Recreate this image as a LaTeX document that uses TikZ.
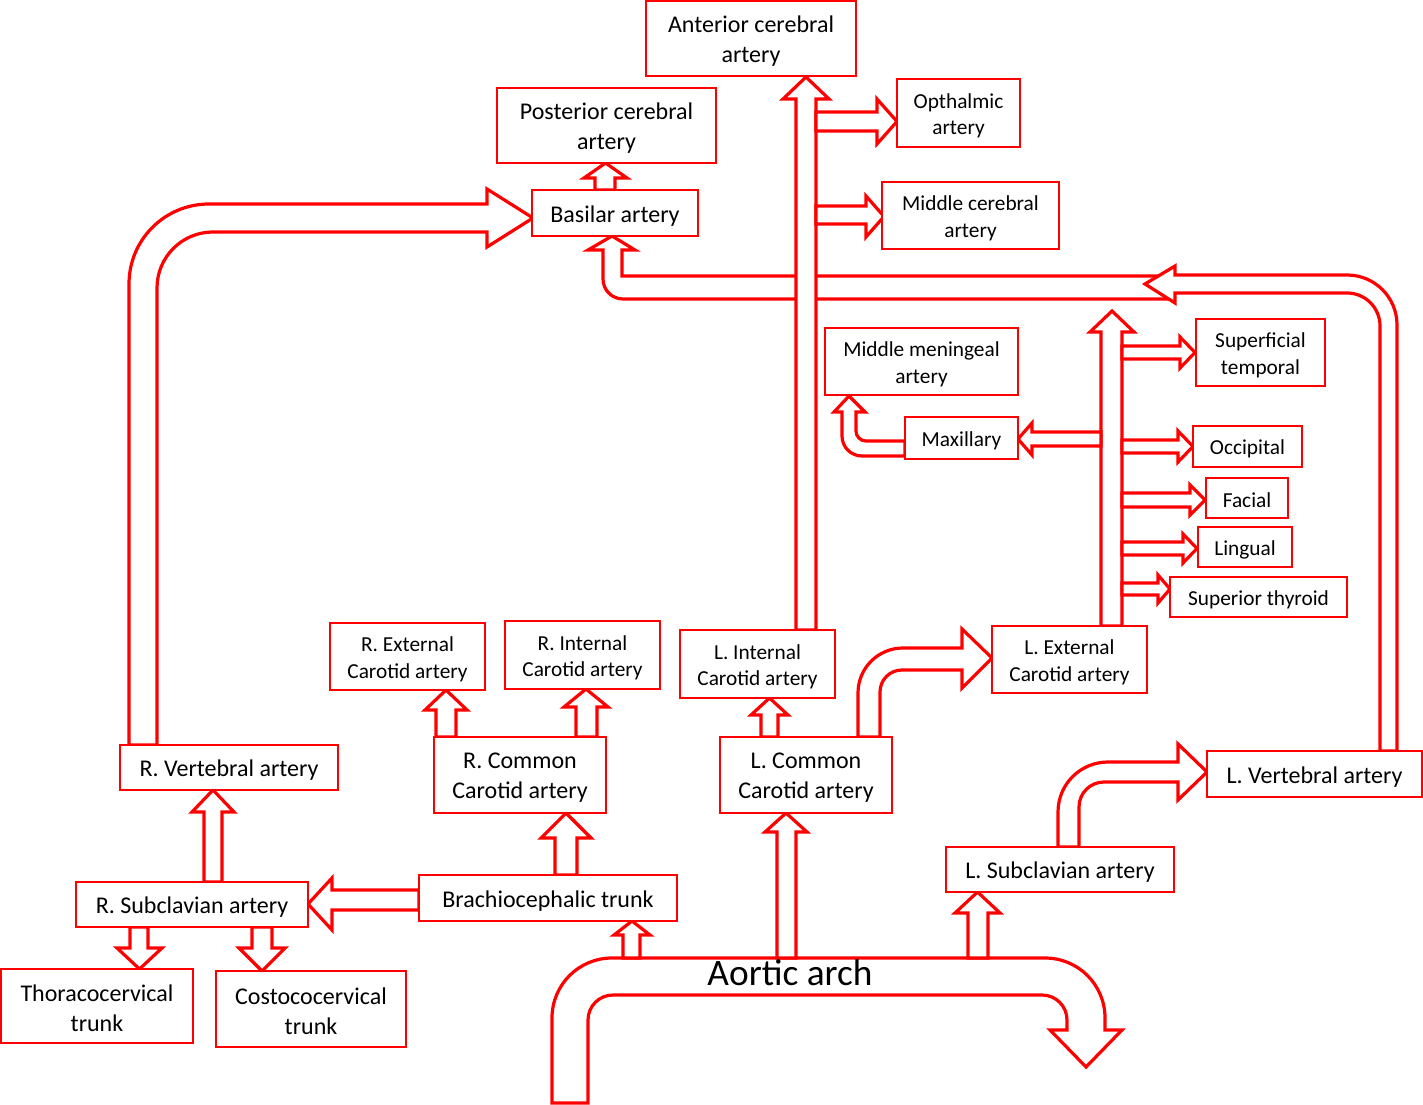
\documentclass[tikz,border=0pt]{standalone}
\usepackage{fontspec}
\setmainfont{Carlito}
\tikzset{
  box/.style={draw=red, line width=1.5pt, fill=white, inner sep=0pt},
  txt/.style={align=center, inner sep=0pt, text=black},
  big/.style={font=\fontsize{18}{22.5}\selectfont},
  small/.style={font=\fontsize{16}{20}\selectfont},
  barrow/.style={draw=red, line width=2.4pt, fill=white, line join=miter},
}
% vertical block arrow: shaft x1 x2, start y, head x1 x2, head base y, tip y
\newcommand{\bav}[7]{\draw[barrow] (#1,#3) -- (#1,#6) -- (#4,#6) -- ({(#4+#5)/2},#7) -- (#5,#6) -- (#2,#6) -- (#2,#3) -- cycle;}
% horizontal block arrow: shaft y1 y2, start x, head y1 y2, head base x, tip x
\newcommand{\bah}[7]{\draw[barrow] (#3,#1) -- (#6,#1) -- (#6,#4) -- (#7,{(#4+#5)/2}) -- (#6,#5) -- (#6,#2) -- (#3,#2) -- cycle;}
% box: name, l, t, r, b, text, style
\newcommand{\mkbox}[7]{\node[box,minimum width={(#4-#2)*0.75pt},minimum height={(#5-#3)*0.75pt}] (#1) at ({(#2+#4)/2},{(#3+#5)/2}) {};
  \node[txt,#7] (#1-t) at ([yshift=-2pt]#1.center) {#6};}
\begin{document}
\begin{tikzpicture}[x=0.75pt,y=-0.75pt]
\useasboundingbox (0,0) rectangle (1423,1105);
% Aortic arch
\draw[barrow] (552,1103) -- (552,1018) to[out=90,in=180] (612,958) -- (1045,958) to[out=0,in=90] (1105,1018) -- (1105,1030) -- (1122,1030) -- (1086,1067) -- (1050,1030) -- (1067,1030) -- (1067,1020) to[out=90,in=0] (1042,995) -- (613,995) to[out=180,in=90] (588,1020) -- (588,1103) -- cycle;
\bav{623}{640}{958}{614}{650}{935}{921}
\bav{777}{796}{958}{765}{807}{832}{813}
\bav{968}{988}{958}{955}{1000}{913}{892}
% band to basilar
\draw[barrow] (1170,276) -- (622,276) -- (622,250) -- (635,250) -- (612,236) -- (588,250) -- (603,250) -- (603,279) to[out=-90,in=180] (623,299) -- (1170,299) -- cycle;
% R vertebral to basilar
\draw[barrow] (129,745) -- (129,284) to[out=90,in=180] (209,204) -- (487,204) -- (487,189) -- (533,218) -- (487,247) -- (487,232) -- (213,232) to[out=180,in=90] (157,288) -- (157,745) -- cycle;
% internal carotid
\bav{796}{816}{630}{783}{829}{99}{77}
\bah{112}{131}{816}{99}{144}{877}{897}
\bah{206}{224}{816}{196}{237}{866}{884}
% external carotid
\bav{1101}{1122}{626}{1090}{1134}{332}{311}
\bah{346}{359}{1122}{337}{368}{1180}{1195}
\bah{440}{453}{1122}{431}{462}{1178}{1193}
\bah{432}{446}{1101}{423}{455}{1032}{1018}
\bah{493}{507}{1122}{485}{515}{1190}{1205}
\bah{542}{555}{1122}{534}{563}{1183}{1197}
\bah{583}{595}{1122}{575}{603}{1158}{1170}
% L vertebral up and left
\draw[barrow] (1397,751) -- (1397,325) to[out=90,in=0] (1347,275) -- (1175,275) -- (1175,266) -- (1145,284) -- (1175,303) -- (1175,293) -- (1347,293) to[out=0,in=90] (1380,326) -- (1380,751) -- cycle;
% maxillary to middle meningeal
\draw[barrow] (905,441) -- (866,441) to[out=180,in=-90] (856,431) -- (856,412) -- (865,412) -- (849,396) -- (834,412) -- (842,412) -- (842,436) to[out=-90,in=180] (862,456) -- (905,456) -- cycle;
% L common to L external
\draw[barrow] (858,737) -- (858,693) to[out=90,in=180] (903,648) -- (962,648) -- (962,629) -- (992,658) -- (962,688) -- (962,670) -- (902,670) to[out=180,in=90] (880,692) -- (880,737) -- cycle;
% L subclavian to L vertebral
\draw[barrow] (1058,847) -- (1058,812) to[out=90,in=180] (1108,762) -- (1178,762) -- (1178,744) -- (1207,772) -- (1178,800) -- (1178,782) -- (1104,782) to[out=180,in=90] (1079,807) -- (1079,847) -- cycle;
% others
\bav{555}{577}{875}{541}{591}{838}{813}
\bah{890}{910}{419}{878}{930}{332}{308}
\bav{204}{222}{882}{192}{234}{812}{790}
\bav{130}{148}{927}{117}{162}{948}{969}
\bav{252}{272}{927}{239}{285}{948}{971}
\bav{595}{615}{190}{584}{627}{178}{163}
\bav{761}{778}{737}{751}{788}{715}{698}
\bav{436}{456}{737}{425}{467}{710}{690}
\bav{576}{597}{737}{564}{608}{707}{689}
% boxes
\mkbox{ant}{646}{1}{856}{76}{Anterior cerebral\\artery}{big}
\mkbox{post}{497}{88}{716}{163}{Posterior cerebral\\artery}{big}
\mkbox{bas}{532}{190}{698}{236}{Basilar artery}{big}
\mkbox{oph}{897}{79}{1020}{147}{Opthalmic\\artery}{small}
\mkbox{mcer}{882}{182}{1059}{249}{Middle cerebral\\artery}{small}
\mkbox{mmen}{825}{328}{1018}{395}{Middle meningeal\\artery}{small}
\mkbox{max}{905}{417}{1018}{459}{Maxillary}{small}
\mkbox{sup}{1196}{319}{1325}{386}{Superficial\\temporal}{small}
\mkbox{occ}{1193}{426}{1302}{467}{Occipital}{small}
\mkbox{fac}{1206}{478}{1288}{518}{Facial}{small}
\mkbox{lin}{1198}{527}{1292}{567}{Lingual}{small}
\mkbox{thy}{1170}{577}{1347}{617}{Superior thyroid}{small}
\mkbox{lext}{992}{626}{1147}{693}{L. External\\Carotid artery}{small}
\mkbox{lint}{680}{630}{835}{698}{L. Internal\\Carotid artery}{small}
\mkbox{rint}{505}{621}{660}{689}{R. Internal\\Carotid artery}{small}
\mkbox{rext}{330}{623}{485}{690}{R. External\\Carotid artery}{small}
\mkbox{rcom}{434}{737}{606}{813}{R. Common\\Carotid artery}{big}
\mkbox{lcom}{720}{737}{892}{813}{L. Common\\Carotid artery}{big}
\mkbox{rvert}{120}{745}{338}{790}{R. Vertebral artery}{big}
\mkbox{lvert}{1207}{751}{1422}{797}{L. Vertebral artery}{big}
\mkbox{lsub}{946}{847}{1174}{892}{L. Subclavian artery}{big}
\mkbox{brach}{419}{875}{677}{921}{Brachiocephalic trunk}{big}
\mkbox{rsub}{76}{882}{308}{927}{R. Subclavian artery}{big}
\mkbox{thor}{1}{969}{193}{1043}{Thoracocervical\\trunk}{big}
\mkbox{cost}{216}{971}{406}{1047}{Costococervical\\trunk}{big}
\node[font=\fontsize{28}{34}\selectfont, anchor=base, inner sep=0pt] (arch) at (790,985) {Aortic arch};
\end{tikzpicture}
\end{document}
